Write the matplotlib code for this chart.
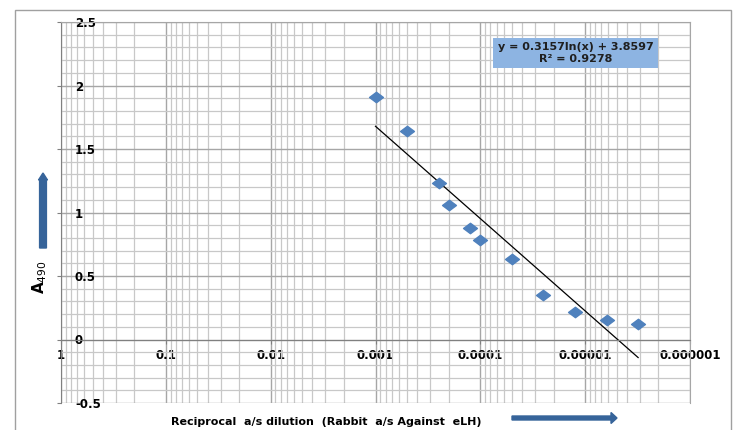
import numpy as np
import matplotlib
matplotlib.use("Agg")
import matplotlib.pyplot as plt
from matplotlib.patches import Rectangle, FancyArrow
from matplotlib.path import Path
from matplotlib.ticker import LogLocator, NullFormatter, MultipleLocator


# ============================================================
# DATA
# ============================================================

dilution = [1/1000, 1/2000, 1/4000, 1/5000, 1/8000, 1/10000,
            1/20000, 1/40000, 1/80000, 1/160000, 1/320000]
a490 = [1.91, 1.64, 1.23, 1.06, 0.88, 0.78, 0.63, 0.35, 0.22, 0.155, 0.12]

# log trendline reported on the chart
fit_slope = 0.3157
fit_icpt = 3.8597
fit_r2 = 0.9278

x_ticks = [1, 0.1, 0.01, 0.001, 0.0001, 0.00001, 0.000001]
x_ticklabels = ["1", "0.1", "0.01", "0.001", "0.0001", "0.00001", "0.000001"]
y_ticks = [-0.5, 0, 0.5, 1, 1.5, 2, 2.5]
y_ticklabels = ["-0.5", "0", "0.5", "1", "1.5", "2", "2.5"]

# ============================================================
# STYLE
# ============================================================

W, H = 734, 430
marker_col = "#4F81BD"
arrow_col = "#36649A"
major_grid = "#A6A6A6"
minor_grid = "#C8C8C8"

plt.rcParams["font.family"] = ["DejaVu Sans"]
plt.rcParams["mathtext.fontset"] = "dejavusans"

fig = plt.figure(figsize=(W / 100, H / 100), dpi=100)

# outer chart border
fig.add_artist(Rectangle((15 / W, -0.01), (731 - 15) / W, (H - 10) / H + 0.01,
                         transform=fig.transFigure, fill=False,
                         edgecolor="#A0A0A0", lw=1.0))

ax = fig.add_axes([61 / W, 27 / H, (690 - 61) / W, (403 - 22) / H])

# ------------------------------------------------------------
# axes: reversed log x
# ------------------------------------------------------------
ax.set_xscale("log")
ax.set_xlim(1, 1e-6)
ax.set_ylim(-0.5, 2.5)

ax.set_xticks(x_ticks, x_ticklabels)
ax.xaxis.set_minor_locator(LogLocator(base=10, subs=np.arange(2, 10)))
ax.xaxis.set_minor_formatter(NullFormatter())
ax.set_yticks(y_ticks, y_ticklabels)
ax.yaxis.set_minor_locator(MultipleLocator(0.1))

ax.grid(True, which="major", color=major_grid, lw=1.0)
ax.grid(True, which="minor", color=minor_grid, lw=0.9)
ax.set_axisbelow(True)

for s in ["top", "right"]:
    ax.spines[s].set_color(major_grid)
ax.spines["left"].set_color("#808080")
ax.spines["bottom"].set_position(("data", 0))
ax.spines["bottom"].set_color("#808080")

ax.tick_params(axis="x", which="major", length=3, pad=4, color="#808080",
               labelsize=8.5)
ax.tick_params(axis="x", which="minor", length=0)
ax.tick_params(axis="y", which="major", length=3, pad=-13, color="#808080",
               labelsize=8.5)
ax.tick_params(axis="y", which="minor", length=0)
for lab in ax.get_yticklabels():
    lab.set_horizontalalignment("left")
    lab.set_fontweight("bold")
for lab in ax.get_xticklabels():
    lab.set_fontweight("bold")

# ------------------------------------------------------------
# data + trendline
# ------------------------------------------------------------
diamond = Path([(-1, 0), (0, 0.75), (1, 0), (0, -0.75), (-1, 0)],
               [Path.MOVETO, Path.LINETO, Path.LINETO, Path.LINETO,
                Path.CLOSEPOLY])
ax.plot(dilution, a490, linestyle="none", marker=diamond, ms=10,
        color=marker_col, zorder=3)

xfit = np.geomspace(max(dilution), min(dilution), 50)
ax.plot(xfit, fit_slope * np.log(xfit) + fit_icpt, color="black", lw=0.9,
        zorder=2)

# equation box (placed in axes fraction)
ax.text((575.5 - 61) / (690 - 61), (403 - 53) / 381,
        f"y = {fit_slope}ln(x) + {fit_icpt}\nR² = {fit_r2}",
        transform=ax.transAxes, ha="center", va="center", fontsize=8,
        fontweight="bold", color="#1F1F1F", linespacing=1.25, zorder=4,
        bbox=dict(boxstyle="square,pad=0.4", facecolor="#8DB4E2",
                  edgecolor="none"))

# ------------------------------------------------------------
# labels + arrows
# ------------------------------------------------------------
fig.text(40 / W, 1 - 277 / H, r"$\mathbf{A}_{490}$", rotation=90,
         ha="center", va="center", fontsize=11)
fig.text(326 / W, 1 - 422 / H,
         "Reciprocal  a/s dilution  (Rabbit  a/s Against  eLH)",
         ha="center", va="center", fontsize=8, fontweight="bold")

fig.add_artist(FancyArrow(43 / W, 1 - 248 / H, 0, (248 - 173) / H,
                          width=4 / H, head_width=9 / W, head_length=7 / H,
                          length_includes_head=True, transform=fig.transFigure,
                          color=arrow_col))
fig.add_artist(FancyArrow(512 / W, 1 - 418 / H, (617 - 512) / W, 0,
                          width=4 / H, head_width=11 / H, head_length=6 / W,
                          length_includes_head=True, transform=fig.transFigure,
                          color=arrow_col))

fig.savefig("out.png", dpi=100)
